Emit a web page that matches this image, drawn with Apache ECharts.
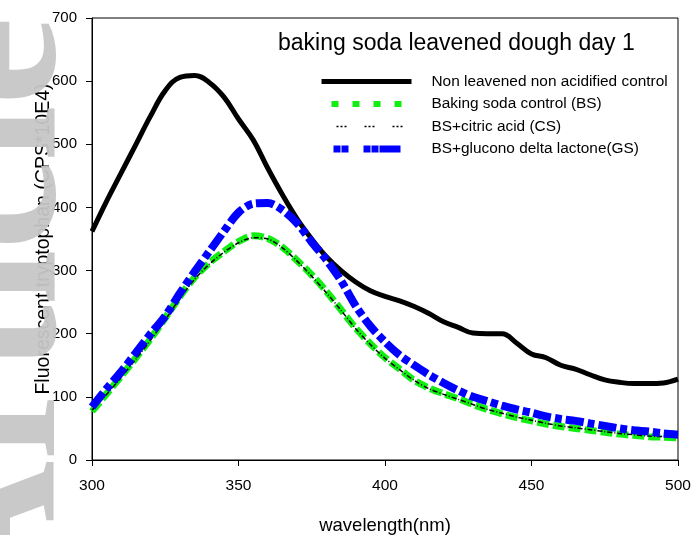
<!DOCTYPE html>
<html>
<head>
<meta charset="utf-8">
<script src="https://cdn.jsdelivr.net/npm/echarts@6/dist/echarts.min.js"></script>
<style>html,body{margin:0;padding:0;background:#fff;}#c{width:693px;height:535px;}</style>
</head>
<body>
<div id="c"></div>
<script>
const wavelengths = [300,305,310,315,320,325,330,335,340,345,350,355,360,365,370,375,380,385,390,395,400,405,410,415,420,425,430,435,440,445,450,455,460,465,470,475,480,485,490,495,500];
const controlNL = [362,410,455,500,545,585,606,609,598,575,540,507,462,420,382,350,322,300,282,268,259,252,243,232,219,210,201,200,200,185,168,162,150,144,135,127,123,121,121,122,128];
const bakingSoda = [77,105,133,162,192,225,259,289,312,330,346,355,351,337,316,293,267,238,209,184,162,144,126,114,105,97,88,80,73,67,62,57,53,50,47,44,41,39,37,36,35];
const citricAcid = [79,104,131,160,190,222,256,286,310,329,344,352,350,336,315,291,265,237,208,183,161,143,126,113,104,96,88,80,74,68,63,58,54,51,48,45,42,40,38,37,36];
const gluconoLactone = [84,113,140,170,200,228,264,298,330,362,392,406,407,396,375,345,317,284,244,212,187,166,150,135,122,110,100,93,86,80,75,69,65,62,58,54,50,47,45,42,40];
const seriesNames = ['Non leavened non acidified control','Baking soda control (BS)','BS+citric acid (CS)','BS+glucono delta lactone(GS)'];
const yTicks = {min:0, max:700, interval:100};
const xTicks = {min:300, max:500, interval:50};

function pairs(arr){ return wavelengths.map((w,i)=>[w,arr[i]]); }

const chart = echarts.init(document.getElementById('c'), null, {renderer:'canvas'});
const font = 'Liberation Sans, Arial, sans-serif';
const hide = {opacity:0};
chart.setOption({
  animation:false,
  backgroundColor:'#fff',
  textStyle:{fontFamily:font},
  title:{text:'baking soda leavened dough day 1', left:273, top:27,
    textStyle:{fontSize:23, fontWeight:'normal', color:'#000', fontFamily:font}},
  legend:{orient:'vertical', left:313, top:69, itemWidth:90, itemHeight:14, itemGap:7.5,
    selectedMode:false,
    data:[
      {name:seriesNames[0], itemStyle:hide, lineStyle:{width:5, color:'#000', type:'solid'}},
      {name:seriesNames[1], itemStyle:hide, lineStyle:{width:6, color:'#11ee11', type:[7,14], dashOffset:-10}},
      {name:seriesNames[2], itemStyle:hide, lineStyle:{width:1.5, color:'#000', type:[2,2,2,2,2,18], dashOffset:-15}},
      {name:seriesNames[3], itemStyle:hide, lineStyle:{width:7, color:'#0000ff', type:[7,1,7,15,7,1,7,1,21,100], dashOffset:-12}}
    ],
    textStyle:{fontSize:15.4, color:'#000', fontFamily:font, padding:[0,0,0,15]}},
  grid:{left:92, right:15, top:18, bottom:75, show:true, borderColor:'#000', borderWidth:1,
    backgroundColor:'transparent', outerBoundsMode:'none', containLabel:false},
  xAxis:{type:'value', min:xTicks.min, max:xTicks.max, interval:xTicks.interval,
    name:'wavelength(nm)', nameLocation:'middle', nameGap:56, nameMoveOverlap:false,
    nameTextStyle:{fontSize:18.5, color:'#000', fontFamily:font},
    axisLine:{lineStyle:{color:'#000', width:1}}, axisTick:{length:6, lineStyle:{color:'#000'}},
    axisLabel:{fontSize:15.5, color:'#000', margin:18, fontFamily:font}, splitLine:{show:false}},
  yAxis:{type:'value', min:yTicks.min, max:yTicks.max, interval:yTicks.interval,
    name:'Fluorescent tryptophan (CPS*10E4)', nameLocation:'middle', nameGap:38, nameMoveOverlap:false,
    nameTextStyle:{fontSize:19.5, color:'#000', fontFamily:font},
    axisLine:{show:true, lineStyle:{color:'#000', width:1}}, axisTick:{show:true, length:6, lineStyle:{color:'#000'}},
    axisLabel:{fontSize:15, color:'#000', margin:15, fontFamily:font}, splitLine:{show:false}},
  graphic:[{type:'text', x:102, y:605, rotation:Math.PI/2, z:100, silent:true,
    style:{text:'Article', fontSize:200, fontWeight:'bold', fontFamily:'Liberation Serif, Times New Roman, serif', fill:'#c6c6c6', verticalAlign:'bottom', opacity:0.95}}],
  series:[
    {name:seriesNames[0], type:'line', data:pairs(controlNL), smooth:0.4, symbol:'none',
      lineStyle:{color:'#000', width:5}, itemStyle:{color:'#000'}},
    {name:seriesNames[1], type:'line', data:pairs(bakingSoda), smooth:0.3, symbol:'none',
      lineStyle:{color:'#11ee11', width:7, type:[12,4]}, itemStyle:{color:'#11ee11'}},
    {name:seriesNames[2], type:'line', data:pairs(citricAcid), smooth:0.3, symbol:'none',
      lineStyle:{color:'#000', width:1.5, type:[5,2,1,2]}, itemStyle:{color:'#000'}},
    {name:seriesNames[3], type:'line', data:pairs(gluconoLactone), smooth:0.3, symbol:'none',
      lineStyle:{color:'#0000ff', width:8, type:[18,4,7,4]}, itemStyle:{color:'#0000ff'}}
  ]
});
</script>
</body>
</html>
